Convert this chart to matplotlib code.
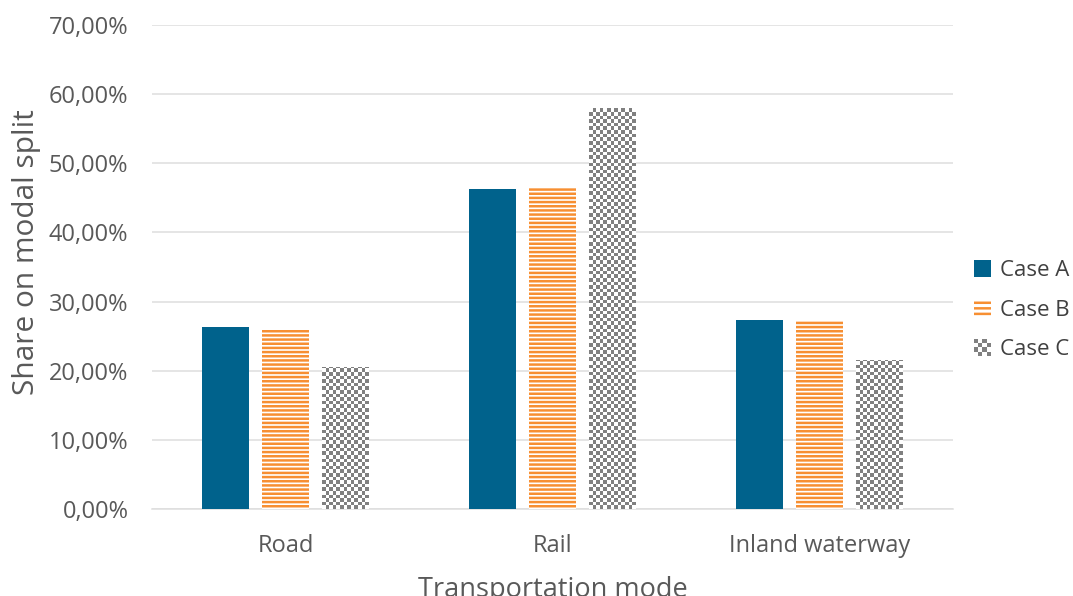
import matplotlib
matplotlib.use('Agg')
import matplotlib.pyplot as plt
import numpy as np
from matplotlib.colors import ListedColormap
from matplotlib.patches import Rectangle, Patch
from matplotlib.legend_handler import HandlerBase
from matplotlib.ticker import FuncFormatter

plt.rcParams['font.family'] = ['Open Sans', 'DejaVu Sans']
plt.rcParams['hatch.linewidth'] = 1.8

# data (share on modal split, %)
modes = ['Road', 'Rail', 'Inland waterway']
case_a = [26.3, 46.3, 27.4]
case_b = [26.0, 46.6, 27.4]
case_c = [20.5, 58.0, 21.5]
cases = ['Case A', 'Case B', 'Case C']

BLUE = '#00628c'
ORANGE = '#f78f32'
GRAY = '#808080'
TXT = '#595959'
GRID = '#dedede'

fig = plt.figure(figsize=(10.73, 5.96), dpi=100)
ax = fig.add_axes([152/1073, 87/596, 801/1073, 484/596])

x = np.arange(len(modes))
w = 0.176
step = 0.223

bars_a = ax.bar(x - step, case_a, w, color=BLUE, linewidth=0, zorder=3)
bars_b = ax.bar(x, case_b, w, facecolor='white', edgecolor=ORANGE,
                hatch='----', linewidth=0, zorder=3)
bars_c = ax.bar(x + step, case_c, w, facecolor='white', linewidth=0, zorder=3)

# checkerboard fill for case C, clipped to each bar
chk = ListedColormap(['white', GRAY])
px_x = 801 / 3.0      # pixels per x unit
px_y = 484 / 70.0     # pixels per y unit
sq = 3.6              # checker square in pixels
for r in bars_c:
    x0, y0 = r.get_x(), r.get_y()
    bw, bh = r.get_width(), r.get_height()
    nc = int(np.ceil(bw * px_x / sq))
    nr = int(np.ceil(bh * px_y / sq))
    pattern = np.indices((nr, nc)).sum(axis=0) % 2
    ex = (x0, x0 + nc * sq / px_x, y0, y0 + nr * sq / px_y)
    im = ax.imshow(pattern, cmap=chk, extent=ex, origin='lower',
                   interpolation='nearest', aspect='auto', zorder=3.5)
    im.set_clip_path(r)

ax.set_xlim(-0.5, 2.5)
ax.set_ylim(0, 70)
ax.set_yticks(np.arange(0, 71, 10))
ax.yaxis.set_major_formatter(FuncFormatter(lambda v, p: f'{v:.2f}'.replace('.', ',') + '%'))
ax.set_xticks(x)
ax.set_xticklabels(modes)
ax.grid(axis='y', color=GRID, linewidth=1.1, zorder=0)
ax.set_axisbelow(True)
for s in ax.spines.values():
    s.set_visible(False)
ax.spines['bottom'].set_visible(True)
ax.spines['bottom'].set_color(GRID)
ax.spines['bottom'].set_linewidth(1.1)
ax.tick_params(axis='both', length=0, colors=TXT, labelsize=17)
ax.tick_params(axis='x', pad=18)
ax.tick_params(axis='y', pad=17)

ax.set_ylabel('Share on modal split', fontsize=21.5, color=TXT)
ax.yaxis.set_label_coords(-0.138, 0.53)
ax.set_xlabel('Transportation mode', fontsize=19.5, color=TXT)
ax.xaxis.set_label_coords(0.5, -0.1385)


class CheckerHandler(HandlerBase):
    def create_artists(self, legend, orig_handle, xdescent, ydescent,
                       width, height, fontsize, trans):
        n = 4
        s = min(width, height)
        x0 = -xdescent + (width - s) / 2
        y0 = -ydescent + (height - s) / 2
        out = []
        for i in range(n):
            for j in range(n):
                c = GRAY if (i + j) % 2 else '#ffffff'
                out.append(Rectangle((x0 + i * s / n, y0 + j * s / n), s / n, s / n,
                                     facecolor=c, edgecolor='none', transform=trans))
        return out


class SquareHandler(HandlerBase):
    def create_artists(self, legend, orig_handle, xdescent, ydescent,
                       width, height, fontsize, trans):
        s = min(width, height)
        x0 = -xdescent + (width - s) / 2
        y0 = -ydescent + (height - s) / 2
        p = Rectangle((x0, y0), s, s, transform=trans, linewidth=0)
        p.update_from(orig_handle)
        p.set_linewidth(0)
        return [p]


h_a = Patch(facecolor=BLUE, linewidth=0)
h_b = Patch(facecolor='white', edgecolor=ORANGE, hatch='---', linewidth=0)
h_c = Patch(facecolor='white')
leg = fig.legend([h_a, h_b, h_c], cases, loc='center left',
                 bbox_to_anchor=(958/1073, 1 - 310/596), frameon=False,
                 fontsize=16, handlelength=0.8, handleheight=0.8,
                 handletextpad=0.4, labelspacing=0.82, borderpad=0.2,
                 handler_map={h_a: SquareHandler(), h_b: SquareHandler(),
                              h_c: CheckerHandler()})
for t in leg.get_texts():
    t.set_color('#404040')

fig.savefig('out.png', dpi=100, facecolor='white')
